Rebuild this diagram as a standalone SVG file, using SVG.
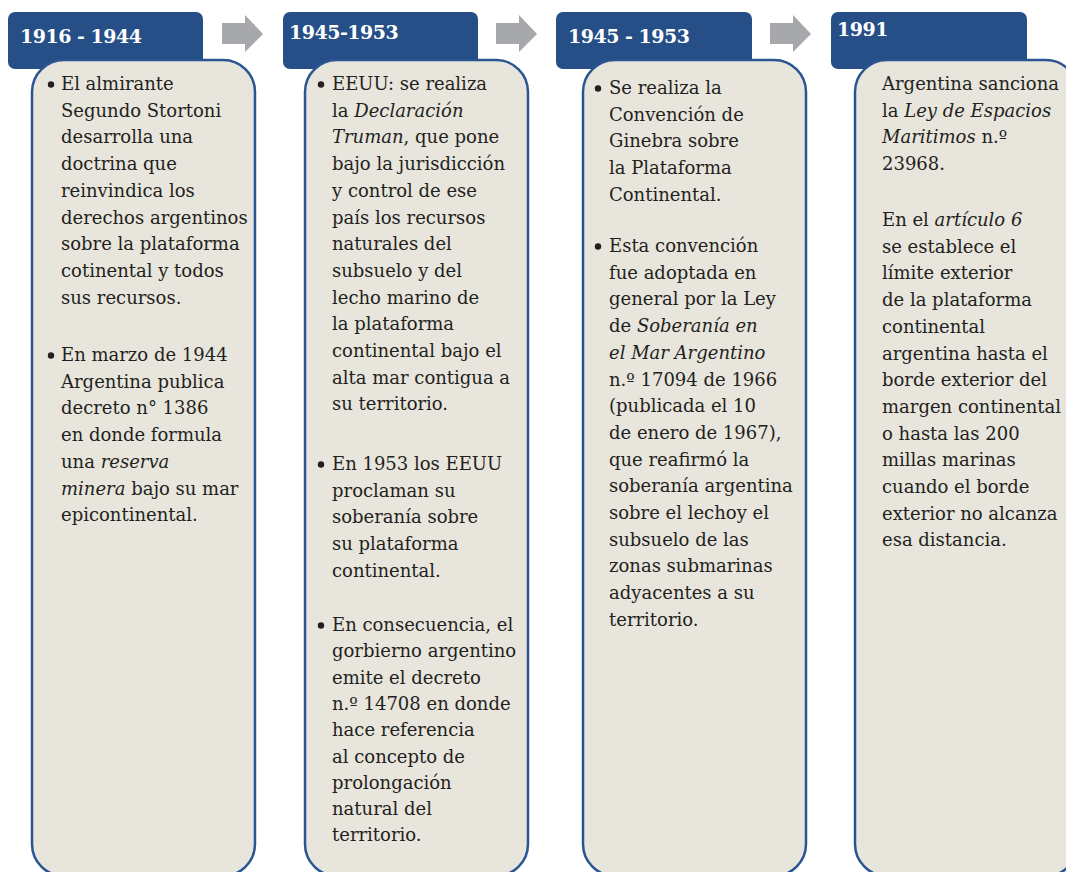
<svg xmlns="http://www.w3.org/2000/svg" width="1066" height="872" viewBox="0 0 1066 872">
<style>
.hdr{fill:#264f87}
.box{fill:#e7e5dc;stroke:#2b5592;stroke-width:2.5}
.arr{fill:#a7a8ab}
.ht{font-family:"DejaVu Serif","Liberation Serif",serif;font-weight:bold;font-size:19px;letter-spacing:-0.5px;fill:#ffffff}
.bt{font-family:"DejaVu Serif","Liberation Serif",serif;font-size:18px;fill:#231f20}
.it{font-style:italic}
.dot{fill:#231f20}
</style>
<rect width="1066" height="872" fill="#ffffff"/>
<g id="connectors">
<polygon class="arr" points="222,23 245,23 245,15 263,34 245,52 245,44 222,44"/>
<polygon class="arr" points="496,23 519,23 519,15 537,34 519,52 519,44 496,44"/>
<polygon class="arr" points="770,23 793,23 793,15 811,34 793,52 793,44 770,44"/>
</g>
<g id="node1">
<rect class="hdr" x="8" y="12" width="195" height="57" rx="7"/>
<text class="ht" x="20" y="43">1916 - 1944</text>
<rect class="box" x="32" y="60" width="223" height="816" rx="32"/>
<circle class="dot" cx="51" cy="84.5" r="3.2"/>
<circle class="dot" cx="51" cy="355.5" r="3.2"/>
<text class="bt">
<tspan x="61" y="90">El almirante</tspan>
<tspan x="61" dy="26.7">Segundo Stortoni</tspan>
<tspan x="61" dy="26.7">desarrolla una</tspan>
<tspan x="61" dy="26.7">doctrina que</tspan>
<tspan x="61" dy="26.7">reinvindica los</tspan>
<tspan x="61" dy="26.7">derechos argentinos</tspan>
<tspan x="61" dy="26.7">sobre la plataforma</tspan>
<tspan x="61" dy="26.7">cotinental y todos</tspan>
<tspan x="61" dy="26.7">sus recursos.</tspan>
</text>
<text class="bt">
<tspan x="61" y="361">En marzo de 1944</tspan>
<tspan x="61" dy="26.7">Argentina publica</tspan>
<tspan x="61" dy="26.7">decreto n° 1386</tspan>
<tspan x="61" dy="26.7">en donde formula</tspan>
<tspan x="61" dy="26.7">una <tspan class="it">reserva</tspan></tspan>
<tspan x="61" dy="26.7"><tspan class="it">minera</tspan> bajo su mar</tspan>
<tspan x="61" dy="26.7">epicontinental.</tspan>
</text>
</g>
<g id="node2">
<rect class="hdr" x="283" y="12" width="195" height="57" rx="7"/>
<text class="ht" x="289" y="39">1945-1953</text>
<rect class="box" x="305" y="60" width="223" height="816" rx="32"/>
<circle class="dot" cx="321" cy="84.5" r="3.2"/>
<circle class="dot" cx="321" cy="464.5" r="3.2"/>
<circle class="dot" cx="321" cy="625.5" r="3.2"/>
<text class="bt">
<tspan x="332" y="90">EEUU: se realiza</tspan>
<tspan x="332" dy="26.7">la <tspan class="it">Declaración</tspan></tspan>
<tspan x="332" dy="26.7"><tspan class="it">Truman</tspan>, que pone</tspan>
<tspan x="332" dy="26.7">bajo la jurisdicción</tspan>
<tspan x="332" dy="26.7">y control de ese</tspan>
<tspan x="332" dy="26.7">país los recursos</tspan>
<tspan x="332" dy="26.7">naturales del</tspan>
<tspan x="332" dy="26.7">subsuelo y del</tspan>
<tspan x="332" dy="26.7">lecho marino de</tspan>
<tspan x="332" dy="26.7">la plataforma</tspan>
<tspan x="332" dy="26.7">continental bajo el</tspan>
<tspan x="332" dy="26.7">alta mar contigua a</tspan>
<tspan x="332" dy="26.7">su territorio.</tspan>
</text>
<text class="bt">
<tspan x="332" y="470">En 1953 los EEUU</tspan>
<tspan x="332" dy="26.7">proclaman su</tspan>
<tspan x="332" dy="26.7">soberanía sobre</tspan>
<tspan x="332" dy="26.7">su plataforma</tspan>
<tspan x="332" dy="26.7">continental.</tspan>
</text>
<text class="bt">
<tspan x="332" y="631">En consecuencia, el</tspan>
<tspan x="332" dy="26.3">gorbierno argentino</tspan>
<tspan x="332" dy="26.3">emite el decreto</tspan>
<tspan x="332" dy="26.3">n.º 14708 en donde</tspan>
<tspan x="332" dy="26.3">hace referencia</tspan>
<tspan x="332" dy="26.3">al concepto de</tspan>
<tspan x="332" dy="26.3">prolongación</tspan>
<tspan x="332" dy="26.3">natural del</tspan>
<tspan x="332" dy="26.3">territorio.</tspan>
</text>
</g>
<g id="node3">
<rect class="hdr" x="556" y="12" width="196" height="57" rx="7"/>
<text class="ht" x="568" y="43">1945 - 1953</text>
<rect class="box" x="583" y="60" width="223" height="816" rx="32"/>
<circle class="dot" cx="598" cy="88.5" r="3.2"/>
<circle class="dot" cx="598" cy="246.5" r="3.2"/>
<text class="bt">
<tspan x="609" y="94">Se realiza la</tspan>
<tspan x="609" dy="26.7">Convención de</tspan>
<tspan x="609" dy="26.7">Ginebra sobre</tspan>
<tspan x="609" dy="26.7">la Plataforma</tspan>
<tspan x="609" dy="26.7">Continental.</tspan>
</text>
<text class="bt">
<tspan x="609" y="252">Esta convención</tspan>
<tspan x="609" dy="26.7">fue adoptada en</tspan>
<tspan x="609" dy="26.7">general por la Ley</tspan>
<tspan x="609" dy="26.7">de <tspan class="it">Soberanía en</tspan></tspan>
<tspan x="609" dy="26.7" class="it">el Mar Argentino</tspan>
<tspan x="609" dy="26.7">n.º 17094 de 1966</tspan>
<tspan x="609" dy="26.7">(publicada el 10</tspan>
<tspan x="609" dy="26.7">de enero de 1967),</tspan>
<tspan x="609" dy="26.7">que reafirmó la</tspan>
<tspan x="609" dy="26.7">soberanía argentina</tspan>
<tspan x="609" dy="26.7">sobre el lechoy el</tspan>
<tspan x="609" dy="26.7">subsuelo de las</tspan>
<tspan x="609" dy="26.7">zonas submarinas</tspan>
<tspan x="609" dy="26.7">adyacentes a su</tspan>
<tspan x="609" dy="26.7">territorio.</tspan>
</text>
</g>
<g id="node4">
<rect class="hdr" x="831" y="12" width="196" height="57" rx="7"/>
<text class="ht" x="837" y="36">1991</text>
<rect class="box" x="855" y="60" width="223" height="816" rx="32"/>
<text class="bt">
<tspan x="882" y="90">Argentina sanciona</tspan>
<tspan x="882" dy="26.7">la <tspan class="it">Ley de Espacios</tspan></tspan>
<tspan x="882" dy="26.7"><tspan class="it">Maritimos</tspan> n.º</tspan>
<tspan x="882" dy="26.7">23968.</tspan>
</text>
<text class="bt">
<tspan x="882" y="226">En el <tspan class="it">artículo 6</tspan></tspan>
<tspan x="882" dy="26.7">se establece el</tspan>
<tspan x="882" dy="26.7">límite exterior</tspan>
<tspan x="882" dy="26.7">de la plataforma</tspan>
<tspan x="882" dy="26.7">continental</tspan>
<tspan x="882" dy="26.7">argentina hasta el</tspan>
<tspan x="882" dy="26.7">borde exterior del</tspan>
<tspan x="882" dy="26.7">margen continental</tspan>
<tspan x="882" dy="26.7">o hasta las 200</tspan>
<tspan x="882" dy="26.7">millas marinas</tspan>
<tspan x="882" dy="26.7">cuando el borde</tspan>
<tspan x="882" dy="26.7">exterior no alcanza</tspan>
<tspan x="882" dy="26.7">esa distancia.</tspan>
</text>
</g>
</svg>
